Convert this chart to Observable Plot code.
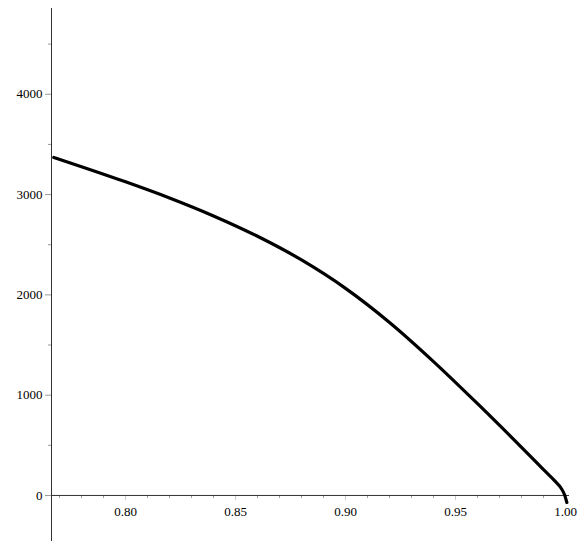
<!DOCTYPE html>
<html>
<head>
<meta charset="utf-8">
<script src="https://cdn.jsdelivr.net/npm/d3@7"></script>
<script src="https://cdn.jsdelivr.net/npm/@observablehq/plot@0.6"></script>
<style>
  html, body { margin: 0; padding: 0; background: #fff; }
  #chart svg { display: block; }
</style>
</head>
<body>
<div id="chart"></div>
<script>
// Curve samples
const xs = [0.7674, 0.78, 0.80, 0.82, 0.84, 0.86, 0.88, 0.90, 0.92, 0.94, 0.96, 0.98, 0.99, 0.995, 0.998, 0.9995, 1.0006];
const ys = [3370, 3278, 3127, 2966, 2787, 2584, 2348, 2065, 1725, 1335, 915, 480, 258, 148, 72, 10, -70];

// Axis ticks
const xTicks = [0.80, 0.85, 0.90, 0.95, 1.00];
const xMinorTicks = [0.77, 0.78, 0.79, 0.81, 0.82, 0.83, 0.84, 0.86, 0.87, 0.88, 0.89, 0.91, 0.92, 0.93, 0.94, 0.96, 0.97, 0.98, 0.99];
const yTicks = [0, 1000, 2000, 3000, 4000];
const yMinorTicks = [500, 1500, 2500, 3500, 4500];

const xDomain = [0.76636, 1.0018];
const yDomain = [-459, 4855];

const data = xs.map((x, i) => ({x, y: ys[i]}));
const xAxisAt = xDomain[0];
const font = "'Liberation Serif', 'Times New Roman', serif";

const chart = Plot.plot({
  width: 581,
  height: 550,
  marginLeft: 51,
  marginRight: 12,
  marginTop: 8,
  marginBottom: 9,
  style: {background: "#fff", fontFamily: font, overflow: "visible"},
  x: {domain: xDomain, axis: null},
  y: {domain: yDomain, axis: null},
  marks: [
    // minor/major ticks on x axis (below the line)
    Plot.ruleX(xMinorTicks, {x: d => d, y1: 0, y2: 0, insetBottom: -3, stroke: "#999"}),
    Plot.ruleX(xTicks, {x: d => d, y1: 0, y2: 0, insetBottom: -5, stroke: "#c8c8c8"}),
    // ticks on y axis (left of the line)
    Plot.ruleY(yMinorTicks, {y: d => d, x1: xAxisAt, x2: xAxisAt, insetLeft: -3, stroke: "#999"}),
    Plot.ruleY(yTicks, {y: d => d, x1: xAxisAt, x2: xAxisAt, insetLeft: -6, stroke: "#999"}),
    // axis lines
    Plot.ruleX([xAxisAt], {stroke: "#333", strokeWidth: 1}),
    Plot.ruleY([0], {stroke: "#333", strokeWidth: 1}),
    // tick labels
    Plot.text(xTicks, {x: d => d, y: 0, dy: 16.5, text: d => d.toFixed(2), fontSize: 13, fill: "#000", fontFamily: font}),
    Plot.text(yTicks, {x: xAxisAt, y: d => d, dx: -9, textAnchor: "end", text: d => String(d), fontSize: 13, fill: "#000", fontFamily: font}),
    // curve
    Plot.line(data, {x: "x", y: "y", stroke: "#000", strokeWidth: 3.2, curve: "monotone-x"})
  ]
});
document.getElementById("chart").append(chart);
</script>
</body>
</html>
